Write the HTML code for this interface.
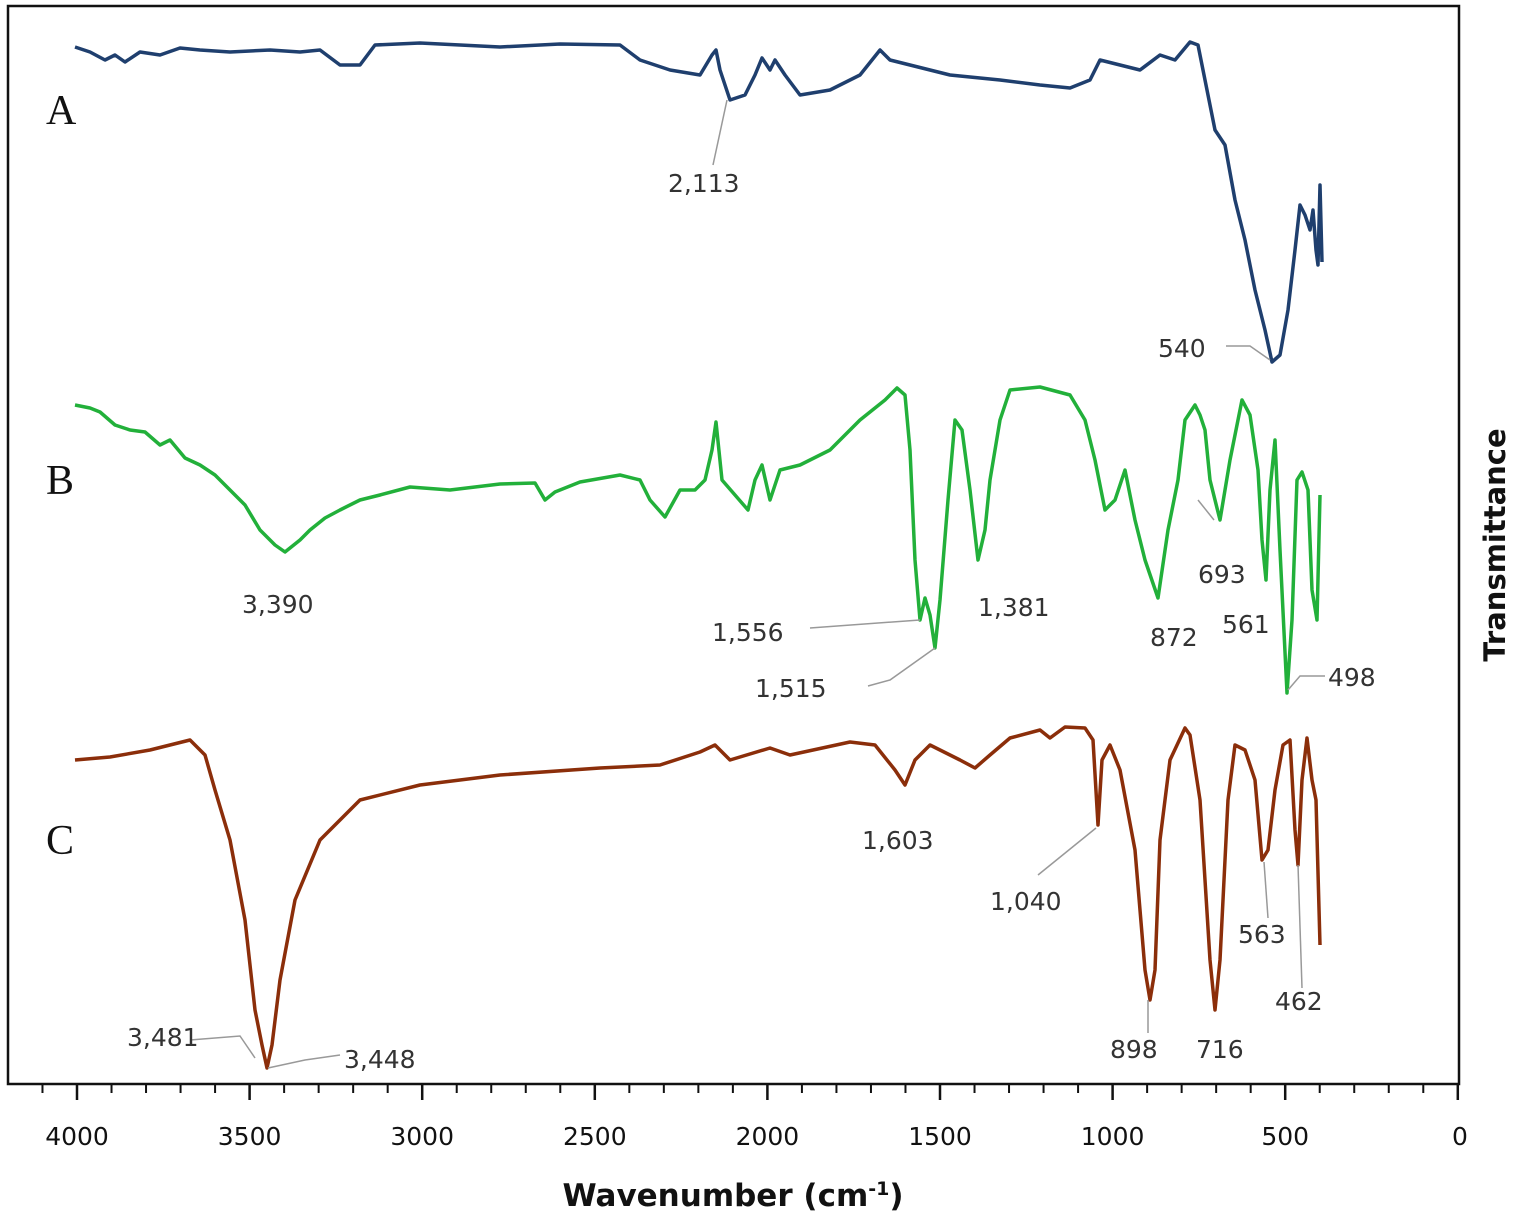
<!DOCTYPE html>
<html><head><style>body{margin:0;background:#fff}svg{display:block}</style></head><body>
<svg width="1513" height="1219" viewBox="0 0 1513 1219" xmlns="http://www.w3.org/2000/svg">
<rect x="8" y="6" width="1451" height="1078" fill="none" stroke="#111" stroke-width="2.5"/>
<g stroke="#111" stroke-width="2.5">
<line x1="77" y1="1084" x2="77" y2="1100"/><line x1="249.6" y1="1084" x2="249.6" y2="1100"/><line x1="422.2" y1="1084" x2="422.2" y2="1100"/><line x1="594.8" y1="1084" x2="594.8" y2="1100"/><line x1="767.4" y1="1084" x2="767.4" y2="1100"/><line x1="940" y1="1084" x2="940" y2="1100"/><line x1="1112.6" y1="1084" x2="1112.6" y2="1100"/><line x1="1285.2" y1="1084" x2="1285.2" y2="1100"/><line x1="1457.8" y1="1084" x2="1457.8" y2="1100"/>
</g>
<g stroke="#111" stroke-width="2" id="minor"></g>
<script>
var g=document.getElementById('minor');
for(var v=4100;v>=100;v-=100){if(v%500==0)continue;var x=77+(4000-v)*0.34520;var l=document.createElementNS('http://www.w3.org/2000/svg','line');l.setAttribute('x1',x);l.setAttribute('x2',x);l.setAttribute('y1',1084);l.setAttribute('y2',1093);g.appendChild(l);}
</script>
<g font-family="DejaVu Sans, sans-serif" font-size="25" fill="#111" text-anchor="middle">
<text x="77" y="1145">4000</text><text x="249.6" y="1145">3500</text><text x="422.2" y="1145">3000</text><text x="594.8" y="1145">2500</text><text x="767.4" y="1145">2000</text><text x="940" y="1145">1500</text><text x="1112.6" y="1145">1000</text><text x="1285.2" y="1145">500</text><text x="1460" y="1145">0</text>
</g>
<text x="733" y="1206" font-family="DejaVu Sans, sans-serif" font-weight="bold" font-size="31" text-anchor="middle" fill="#111">Wavenumber (cm<tspan font-size="19" dy="-11">-1</tspan><tspan dy="11">)</tspan></text>
<text transform="translate(1505,545) rotate(-90)" font-family="DejaVu Sans, sans-serif" font-weight="bold" font-size="29" text-anchor="middle" fill="#111">Transmittance</text>
<g font-family="Liberation Serif, serif" font-size="42" fill="#111">
<text x="46" y="124">A</text><text x="46" y="494">B</text><text x="46" y="854">C</text>
</g>
<g fill="none" stroke-width="3.5" stroke-linejoin="round">
<polyline stroke="#1f3f6e" points="75,47 90,52 105,60 115,55 125,62 140,52 160,55 180,48 200,50 230,52 270,50 300,52 320,50 340,65 360,65 375,45 420,43 500,47 560,44 620,45 640,60 670,70 700,75 712,55 716,50 720,70 730,100 745,95 755,75 762,58 770,70 775,60 785,75 800,95 830,90 860,75 880,50 890,60 910,65 950,75 1000,80 1040,85 1070,88 1090,80 1100,60 1120,65 1140,70 1160,55 1175,60 1190,42 1198,45 1205,80 1215,130 1225,145 1235,200 1245,240 1255,290 1265,330 1272,362 1280,355 1288,310 1295,250 1300,205 1305,215 1310,230 1313,210 1316,250 1318,265 1320,185 1322,262"/>
<polyline stroke="#22b03a" points="75,405 90,408 100,412 115,425 130,430 145,432 160,445 170,440 185,458 200,465 215,475 230,490 245,505 260,530 275,545 285,552 300,540 310,530 325,518 340,510 360,500 380,495 410,487 450,490 500,484 535,483 545,500 555,492 580,482 620,475 640,480 650,500 665,517 680,490 695,490 705,480 712,450 716,422 722,480 735,495 748,510 755,480 762,465 770,500 780,470 800,465 830,450 860,420 885,400 897,388 905,395 910,450 915,560 920,620 925,598 930,615 935,648 940,600 948,500 955,420 962,430 970,490 978,560 985,530 990,480 1000,420 1010,390 1040,387 1070,395 1085,420 1095,460 1105,510 1115,500 1125,470 1135,520 1145,560 1158,598 1168,530 1178,480 1185,420 1195,405 1200,415 1205,430 1210,480 1220,520 1230,460 1242,400 1250,415 1258,470 1262,540 1266,580 1270,490 1275,440 1280,550 1287,693 1292,620 1297,480 1302,472 1308,490 1312,590 1317,620 1320,495"/>
<polyline stroke="#8b2e0a" points="75,760 110,757 150,750 170,745 190,740 205,755 215,790 230,840 245,920 255,1010 262,1045 267,1068 272,1045 280,980 295,900 320,840 360,800 420,785 500,775 600,768 660,765 700,752 715,745 730,760 770,748 790,755 850,742 875,745 895,770 905,785 915,760 930,745 960,760 975,768 990,755 1010,738 1040,730 1050,738 1065,727 1085,728 1093,740 1098,825 1102,760 1110,745 1120,770 1135,850 1145,970 1150,1000 1155,970 1160,840 1170,760 1185,728 1190,735 1200,800 1210,960 1215,1010 1220,960 1228,800 1235,745 1245,750 1255,780 1262,860 1268,850 1275,790 1283,745 1290,740 1295,830 1298,865 1302,780 1307,738 1312,780 1316,800 1320,945"/>
</g>
<g stroke="#999" stroke-width="1.5" fill="none">
<line x1="713" y1="165" x2="727" y2="100"/>
<polyline points="1226,346 1250,346 1270,360"/>
<line x1="810" y1="628" x2="920" y2="620"/>
<polyline points="868,686 890,680 935,648"/>
<line x1="1214" y1="520" x2="1198" y2="500"/>
<polyline points="1325,676 1300,676 1288,690"/>
<line x1="1038" y1="875" x2="1096" y2="828"/>
<polyline points="190,1040 240,1036 255,1058"/>
<polyline points="340,1055 305,1060 268,1068"/>
<line x1="1148" y1="1033" x2="1148" y2="1000"/>
<line x1="1268" y1="918" x2="1264" y2="862"/>
<line x1="1302" y1="988" x2="1298" y2="865"/>
</g>
<g font-family="DejaVu Sans, sans-serif" font-size="25" fill="#333">
<text x="668" y="192">2,113</text>
<text x="1158" y="357">540</text>
<text x="242" y="613">3,390</text>
<text x="712" y="641">1,556</text>
<text x="755" y="697">1,515</text>
<text x="978" y="616">1,381</text>
<text x="1198" y="583">693</text>
<text x="1150" y="646">872</text>
<text x="1222" y="633">561</text>
<text x="1328" y="686">498</text>
<text x="862" y="849">1,603</text>
<text x="990" y="910">1,040</text>
<text x="1238" y="943">563</text>
<text x="1275" y="1010">462</text>
<text x="1110" y="1058">898</text>
<text x="1196" y="1058">716</text>
<text x="127" y="1046">3,481</text>
<text x="344" y="1068">3,448</text>
</g>
</svg>
</body></html>
